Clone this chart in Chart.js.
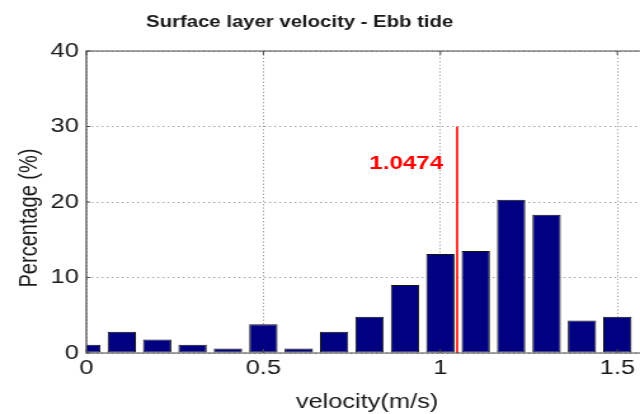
<!DOCTYPE html>
<html>
<head>
<meta charset="utf-8">
<title>Surface layer velocity - Ebb tide</title>
<script src="https://cdn.jsdelivr.net/npm/chart.js@4/dist/chart.umd.min.js"></script>
<style>
  html, body { margin: 0; padding: 0; background: #fff; overflow: hidden; }
  #wrap { width: 640px; height: 414px; overflow: hidden; }
  /* the figure is laid out on a 504px canvas and widened to 640px */
  #c { transform: scaleX(1.26984); transform-origin: 0 0; }
</style>
</head>
<body>
<div id="wrap"><canvas id="c" width="504" height="414"></canvas></div>
<script>
// Histogram bins (velocity, m/s) and share of samples in each bin (%)
const binCenters = [0, 0.1, 0.2, 0.3, 0.4, 0.5, 0.6, 0.7, 0.8, 0.9, 1.0, 1.1, 1.2, 1.3, 1.4, 1.5];
const percentages = [1.1, 2.8, 1.8, 1.1, 0.6, 3.8, 0.6, 2.8, 4.8, 9.0, 13.1, 13.5, 20.3, 18.3, 4.3, 4.8];

// Axis ticks
const xTicks = [0, 0.5, 1, 1.5];
const yTicks = [0, 10, 20, 30, 40];

// Mean velocity marker
const meanVelocity = 1.0474;
const meanLineTop = 30;
const meanLabelLevel = 25;

const FONT = '"Liberation Sans", Arial, Helvetica, sans-serif';
const INK = '#1a1a1a';

const figureDecor = {
  id: 'figureDecor',
  beforeDraw(chart) {
    const { ctx, width, height } = chart;
    ctx.save();
    ctx.fillStyle = '#ffffff';
    ctx.fillRect(0, 0, width, height);
    ctx.restore();
  },
  afterDatasetsDraw(chart) {
    const { ctx, chartArea: a, scales: { x, y } } = chart;
    ctx.save();
    // axes box (left, top, bottom)
    ctx.strokeStyle = '#4a4a4a';
    ctx.lineWidth = 1.2;
    ctx.beginPath();
    ctx.moveTo(a.right + 2, a.top);
    ctx.lineTo(a.left, a.top);
    ctx.lineTo(a.left, a.bottom);
    ctx.lineTo(a.right + 2, a.bottom);
    ctx.stroke();
    // inward tick marks
    ctx.lineWidth = 1;
    ctx.beginPath();
    xTicks.forEach(v => {
      const px = x.getPixelForValue(v);
      ctx.moveTo(px, a.top); ctx.lineTo(px, a.top + 4);
      ctx.moveTo(px, a.bottom); ctx.lineTo(px, a.bottom - 4);
    });
    yTicks.forEach(v => {
      const py = y.getPixelForValue(v);
      ctx.moveTo(a.left, py); ctx.lineTo(a.left + 3, py);
    });
    ctx.stroke();

    // mean value label
    ctx.fillStyle = '#ff0000';
    ctx.font = 'bold 19px ' + FONT;
    ctx.textAlign = 'right';
    ctx.textBaseline = 'middle';
    ctx.fillText(meanVelocity.toFixed(4), x.getPixelForValue(meanVelocity) - 11, y.getPixelForValue(meanLabelLevel));
    ctx.restore();
  },
  afterDraw(chart) {
    const { ctx } = chart;
    ctx.save();
    ctx.fillStyle = INK;
    ctx.textAlign = 'center';
    ctx.textBaseline = 'middle';

    ctx.font = 'bold 16px ' + FONT;
    ctx.fillText('Surface layer velocity - Ebb tide', 236, 23);

    ctx.font = '20px ' + FONT;
    ctx.fillText('velocity(m/s)', 289, 402);

    ctx.translate(23, 218);
    ctx.rotate(-Math.PI / 2);
    ctx.fillText('Percentage (%)', 0, 0);
    ctx.restore();
  }
};

new Chart(document.getElementById('c'), {
  type: 'bar',
  data: {
    datasets: [
      {
        type: 'bar',
        data: binCenters.map((v, i) => ({ x: v, y: percentages[i] })),
        backgroundColor: '#000080',
        borderColor: '#111111',
        borderWidth: 1,
        borderSkipped: false,
        barPercentage: 0.8,
        categoryPercentage: 1.0,
        order: 2
      },
      {
        type: 'line',
        data: [{ x: meanVelocity, y: 0 }, { x: meanVelocity, y: meanLineTop }],
        borderColor: '#ff0000',
        borderWidth: 1.6,
        pointRadius: 0,
        fill: false,
        order: 1
      }
    ]
  },
  options: {
    responsive: false,
    animation: false,
    devicePixelRatio: 1,
    layout: { padding: { top: 51, left: 0, right: 0, bottom: 0 } },
    plugins: {
      legend: { display: false },
      title: { display: false },
      tooltip: { enabled: false }
    },
    scales: {
      x: {
        type: 'linear',
        min: 0,
        max: 1.564,
        offset: false,
        afterBuildTicks: s => { s.ticks = xTicks.map(v => ({ value: v })); },
        afterFit: s => { s.height = 61; },
        ticks: {
          color: INK,
          font: { family: FONT, size: 20 },
          padding: 3,
          maxRotation: 0,
          autoSkip: false,
          callback: v => String(v)
        },
        grid: { color: '#9a9a9a', lineWidth: 1, drawTicks: false, offset: false },
        border: { display: false, dash: [1.2, 2.2] }
      },
      y: {
        min: 0,
        max: 40,
        afterBuildTicks: s => { s.ticks = yTicks.map(v => ({ value: v })); },
        afterFit: s => { s.width = 68; },
        ticks: {
          color: INK,
          font: { family: FONT, size: 20 },
          padding: 6,
          callback: v => String(v)
        },
        grid: { color: '#9a9a9a', lineWidth: 1, drawTicks: false },
        border: { display: false, dash: [1.3, 2.7] }
      }
    }
  },
  plugins: [figureDecor]
});
</script>
</body>
</html>
